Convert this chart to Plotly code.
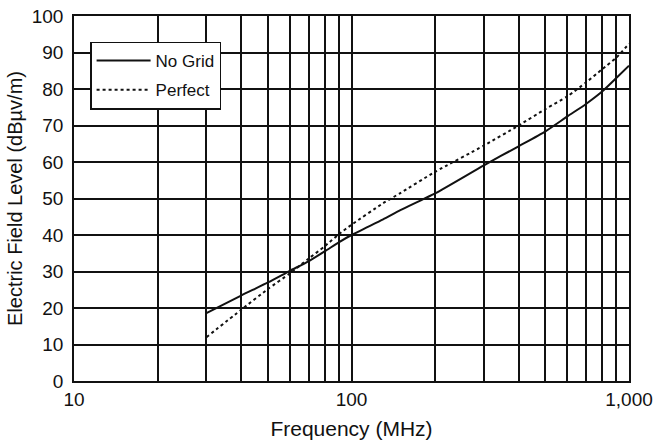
import plotly.graph_objects as go

freq = [30, 40, 50, 60, 70, 80, 90, 100, 130, 150, 200, 300, 400, 500, 600, 700, 800, 900, 1000]
no_grid = [18.6, 23.4, 27.0, 30.2, 32.8, 35.5, 38.0, 40.0, 44.3, 46.8, 51.4, 59.1, 64.3, 68.4, 72.5, 75.9, 79.3, 83.0, 86.4]
perfect = [12.0, 19.5, 25.2, 29.5, 33.5, 36.9, 40.2, 42.8, 48.7, 51.5, 57.3, 64.5, 70.0, 74.5, 78.0, 81.8, 85.4, 88.6, 92.4]

x_tickvals = [10, 20, 30, 40, 50, 60, 70, 80, 90, 100, 200, 300, 400, 500, 600, 700, 800, 900, 1000]
x_ticktext = ["10", "", "", "", "", "", "", "", "", "100", "", "", "", "", "", "", "", "", "1,000"]
y_tickvals = [0, 10, 20, 30, 40, 50, 60, 70, 80, 90, 100]

font_family = "Liberation Sans, Arial, sans-serif"
ink = "#111111"

fig = go.Figure()
fig.add_trace(go.Scatter(x=freq, y=no_grid, mode="lines", name="No Grid", legendgroup="a",
                         line=dict(color=ink, width=2, shape="spline", smoothing=0.6)))
fig.add_trace(go.Scatter(x=freq, y=perfect, mode="lines", name="Perfect", legendgroup="b",
                         line=dict(color=ink, width=2, dash="dot", shape="spline", smoothing=0.6)))

fig.update_layout(
    width=656, height=443,
    margin=dict(l=74, r=27, t=16, b=62),
    paper_bgcolor="white", plot_bgcolor="white",
    font=dict(family=font_family, color=ink, size=19),
    showlegend=True,
    legend=dict(x=0.029, y=0.93, xanchor="left", yanchor="top",
                bordercolor=ink, borderwidth=1.5, bgcolor="white",
                font=dict(size=17, family=font_family, color=ink),
                itemwidth=54, tracegroupgap=4),
)
fig.update_xaxes(type="log", range=[1, 3], tickvals=x_tickvals, ticktext=x_ticktext,
                 showgrid=True, gridcolor=ink, gridwidth=1.5,
                 showline=True, linecolor=ink, linewidth=1.5, mirror=True,
                 ticks="", tickfont=dict(size=19), automargin=False,
                 title=dict(text="Frequency (MHz)", font=dict(size=21), standoff=13))
fig.update_yaxes(range=[0, 100], tickvals=y_tickvals,
                 showgrid=True, gridcolor=ink, gridwidth=1.5,
                 showline=True, linecolor=ink, linewidth=1.5, mirror=True,
                 zeroline=False, ticks="", tickfont=dict(size=19), automargin=False,
                 ticklabelstandoff=5,
                 title=dict(text="Electric Field Level (dBµv/m)", font=dict(size=20), standoff=4))

fig.write_html("out.html")
